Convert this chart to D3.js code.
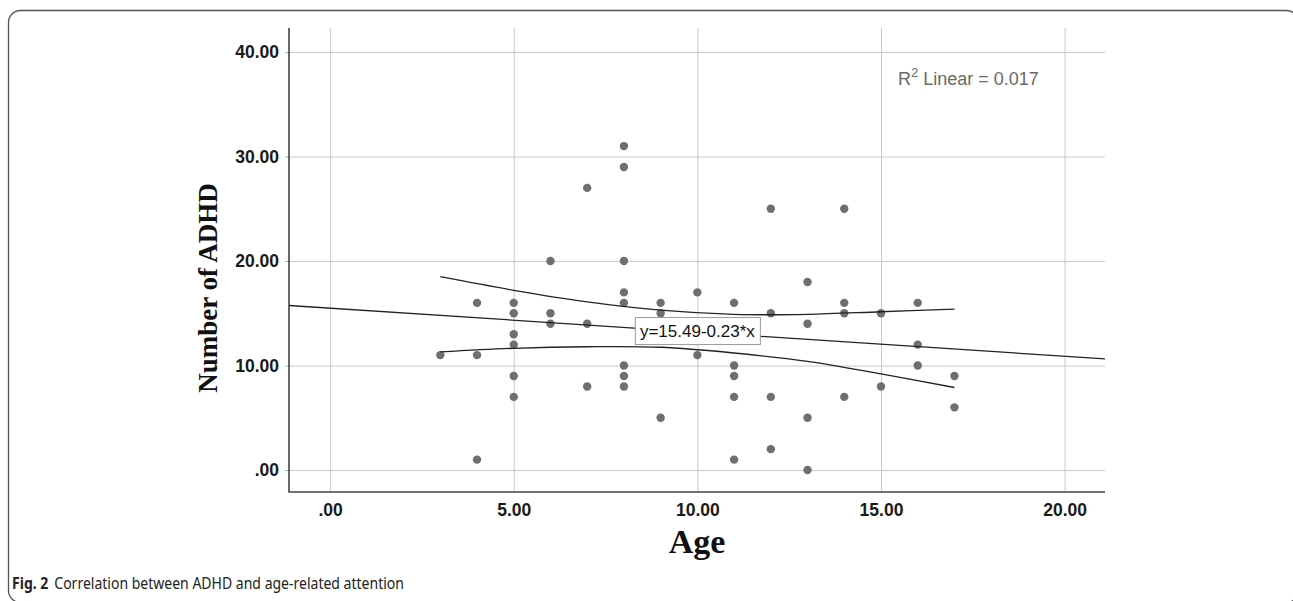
<!DOCTYPE html>
<html>
<head>
<meta charset="utf-8">
<script src="https://cdn.jsdelivr.net/npm/d3@7"></script>
<style>
  body { margin: 0; background: #fff; }
  svg { display: block; }
</style>
</head>
<body>
<script>
// scatter of ADHD count vs age
var ages =   [3, 4, 4, 4, 5, 5, 5, 5, 5, 5, 6, 6, 6, 7, 7, 7,
              8, 8, 8, 8, 8, 8, 8, 8, 9, 9, 9, 10, 10,
              11, 11, 11, 11, 11, 12, 12, 12, 12, 13, 13, 13, 13,
              14, 14, 14, 14, 15, 15, 16, 16, 16, 17, 17];
var counts = [11, 16, 11, 1, 16, 15, 13, 12, 9, 7, 20, 15, 14, 27, 14, 8,
              31, 29, 20, 17, 16, 10, 9, 8, 16, 15, 5, 17, 11,
              16, 10, 9, 7, 1, 25, 15, 7, 2, 18, 14, 5, 0,
              25, 16, 15, 7, 15, 8, 16, 12, 10, 9, 6];

// fit line and its 95% mean band (band)
var intercept = 15.49;
var slope = -0.23;
var bandX =     [3, 5, 7, 9, 11, 13, 15, 17];
var bandUpper = [18.5, 17.2, 16.1, 15.3, 14.9, 14.9, 15.15, 15.4];
var bandLower = [11.3, 11.65, 11.8, 11.75, 11.2, 10.4, 9.2, 7.9];

var xTicks = [0, 5, 10, 15, 20];
var yTicks = [0, 10, 20, 30, 40];

var width = 1293, height = 601;
var plotL = 289, plotR = 1105, plotT = 28, plotB = 492;

var svg = d3.select('body')
        .append('svg')
        .attr('width', width)
        .attr('height', height);

// outer frame of the figure
svg.append('rect')
        .attr('x', 8.5)
        .attr('y', 10.5)
        .attr('width', 1290)
        .attr('height', 592)
        .attr('rx', 12)
        .attr('fill', 'none')
        .attr('stroke', '#555')
        .attr('stroke-width', 1.3);

var x = d3.scaleLinear().domain([-1.12, 21.1]).range([plotL, plotR]);
var y = d3.scaleLinear().domain([-2.1, 42.3]).range([plotB, plotT]);

function fmt(d) {
    var s = d3.format('.2f')(d);
    return d === 0 ? s.slice(1) : s;
}

// grid lines
svg.append('g')
        .attr('transform', 'translate(0,' + plotB + ')')
        .call(d3.axisBottom(x).tickValues(xTicks).tickSize(-(plotB - plotT)).tickFormat(''))
        .call(function(g) { g.select('.domain').remove(); })
        .selectAll('line')
        .attr('stroke', '#c9c9c9');

svg.append('g')
        .attr('transform', 'translate(' + plotL + ',0)')
        .call(d3.axisLeft(y).tickValues(yTicks).tickSize(-(plotR - plotL)).tickFormat(''))
        .call(function(g) { g.select('.domain').remove(); })
        .selectAll('line')
        .attr('stroke', '#c9c9c9');

// axes
var xAxis = svg.append('g')
        .attr('transform', 'translate(0,' + plotB + ')')
        .call(d3.axisBottom(x).tickValues(xTicks).tickSize(0).tickPadding(12).tickFormat(fmt));

var yAxis = svg.append('g')
        .attr('transform', 'translate(' + plotL + ',0)')
        .call(d3.axisLeft(y).tickValues(yTicks).tickSize(4).tickPadding(6).tickFormat(fmt));

[xAxis, yAxis].forEach(function(a) {
    a.select('.domain').remove();
    a.selectAll('line').attr('stroke', '#aaa');
    a.selectAll('text')
        .attr('font-family', 'Liberation Sans, Arial, sans-serif')
        .attr('font-size', 17.5)
        .attr('font-weight', 'bold')
        .attr('fill', '#1a1a1a');
});

// axis frame lines (left and bottom)
svg.append('path')
        .attr('d', 'M' + plotL + ',' + plotT + 'V' + plotB + 'H' + plotR)
        .attr('fill', 'none')
        .attr('stroke', '#444')
        .attr('stroke-width', 1.6);

// points
svg.selectAll('circle')
        .data(ages)
        .enter()
        .append('circle')
        .attr('cx', function(d) { return x(d); })
        .attr('cy', function(d, i) { return y(counts[i]); })
        .attr('r', 4.2)
        .attr('fill', '#6f6f6f');

// fit line across whole x range
var dom = x.domain();
svg.append('line')
        .attr('x1', x(dom[0]))
        .attr('y1', y(intercept + slope * dom[0]))
        .attr('x2', x(dom[1]))
        .attr('y2', y(intercept + slope * dom[1]))
        .attr('stroke', '#222')
        .attr('stroke-width', 1.3);

var band = d3.line()
        .x(function(d) { return x(d[0]); })
        .y(function(d) { return y(d[1]); })
        .curve(d3.curveCatmullRom);

[bandUpper, bandLower].forEach(function(vals) {
    svg.append('path')
        .attr('d', band(bandX.map(function(v, i) { return [v, vals[i]]; })))
        .attr('fill', 'none')
        .attr('stroke', '#222')
        .attr('stroke-width', 1.3);
});

// equation label
var eqX = x(10), eqY = y(13.3);
svg.append('rect')
        .attr('x', eqX - 62)
        .attr('y', eqY - 13.5)
        .attr('width', 125)
        .attr('height', 27)
        .attr('fill', '#fff')
        .attr('stroke', '#999');

svg.append('text')
        .attr('x', eqX)
        .attr('y', eqY + 6)
        .attr('text-anchor', 'middle')
        .attr('font-family', 'Liberation Sans, Arial, sans-serif')
        .attr('font-size', 17)
        .attr('fill', '#111')
        .text('y=15.49-0.23*x');

// R squared label
var r2 = svg.append('text')
        .attr('x', 898)
        .attr('y', 85)
        .attr('font-family', 'Liberation Sans, Arial, sans-serif')
        .attr('font-size', 18)
        .attr('fill', '#6a6a6a');
r2.append('tspan').text('R');
r2.append('tspan').attr('dy', -8).attr('font-size', 13).text('2');
r2.append('tspan').attr('dy', 8).text(' Linear = 0.017');

// axis titles
svg.append('text')
        .attr('transform', 'translate(217,' + ((plotT + plotB) / 2 + 28) + ') rotate(-90)')
        .attr('text-anchor', 'middle')
        .attr('font-family', 'Liberation Serif, Times New Roman, serif')
        .attr('font-weight', 'bold')
        .attr('font-size', 27)
        .attr('fill', '#111')
        .text('Number of ADHD');

svg.append('text')
        .attr('x', (plotL + plotR) / 2)
        .attr('y', 553)
        .attr('text-anchor', 'middle')
        .attr('font-family', 'Liberation Serif, Times New Roman, serif')
        .attr('font-weight', 'bold')
        .attr('font-size', 34)
        .attr('fill', '#111')
        .text('Age');

// caption (narrowed a bit to match the condensed original face)
var cap = svg.append('text')
        .attr('transform', 'translate(12,589) scale(0.85,1)')
        .attr('font-family', 'Noto Sans, Open Sans, sans-serif')
        .attr('font-size', 16.5)
        .attr('fill', '#222');
cap.append('tspan').attr('font-weight', 'bold').text('Fig. 2');
cap.append('tspan').attr('dx', 7).text('Correlation between ADHD and age-related attention');
</script>
</body>
</html>
